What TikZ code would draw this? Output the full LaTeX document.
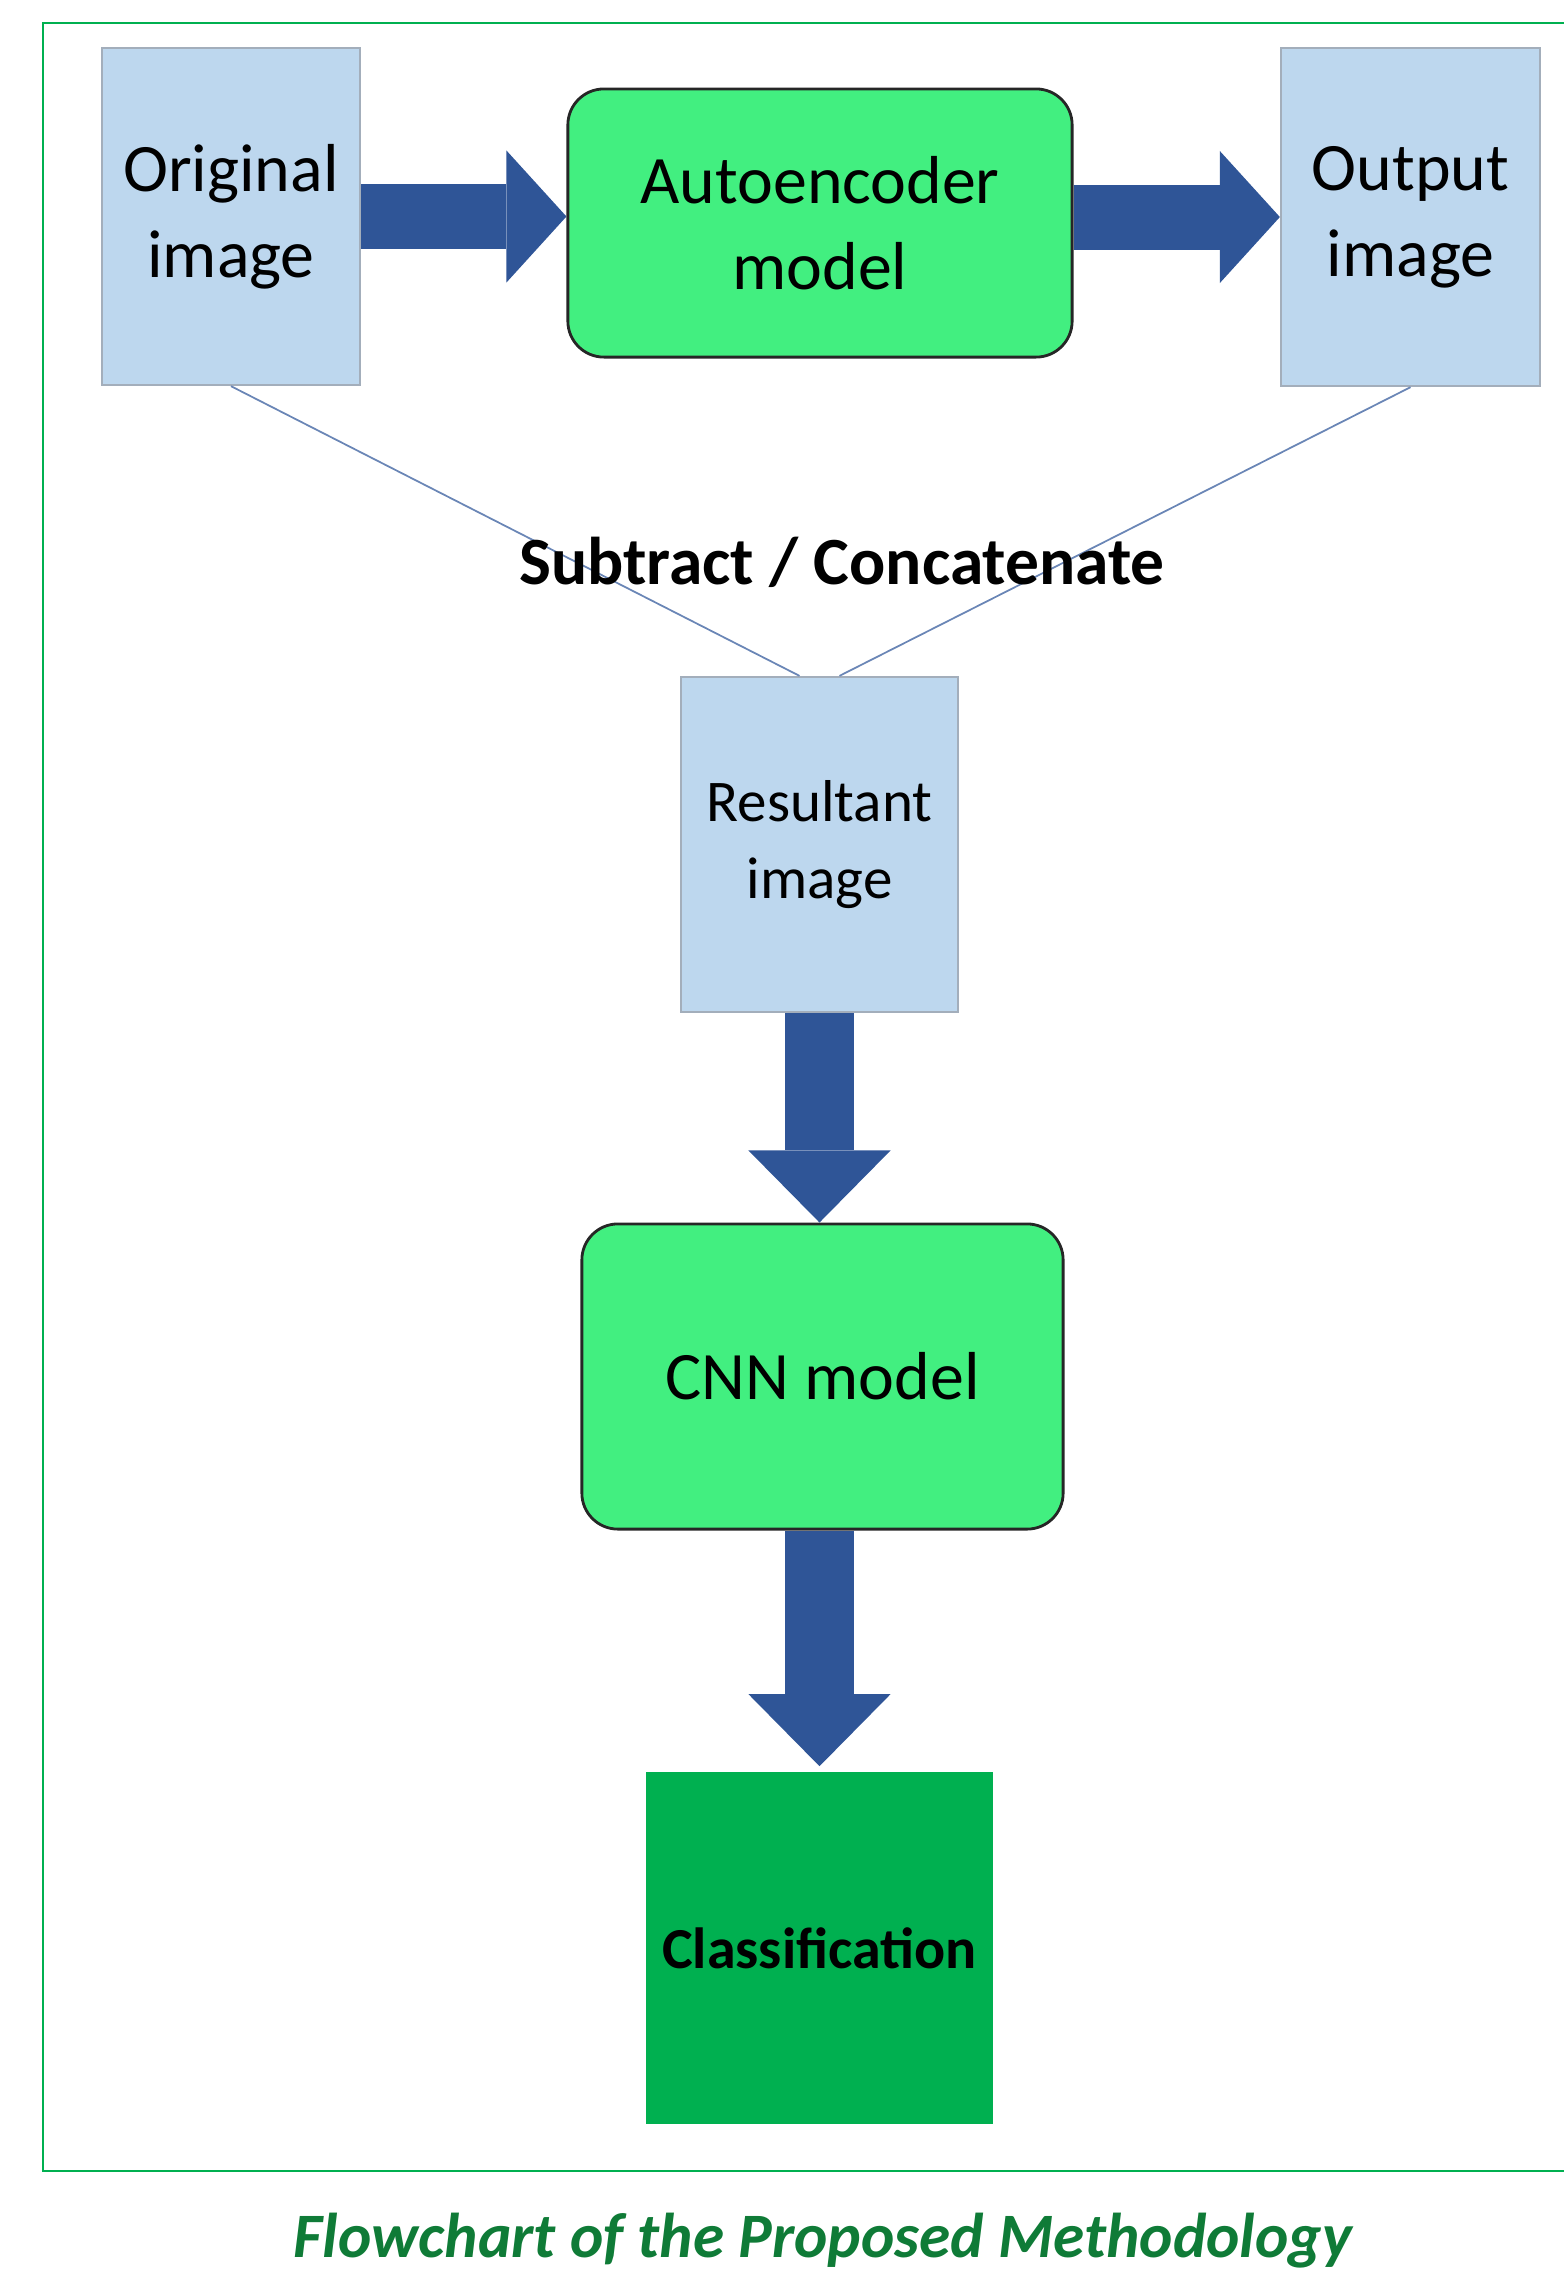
\documentclass[tikz,border=0pt]{standalone}
\usepackage{fontspec}
\setmainfont{Carlito}
\usetikzlibrary{arrows.meta}

\definecolor{imgblue}{HTML}{BDD7EE}
\definecolor{imgedge}{HTML}{A3AEBB}
\definecolor{modelgreen}{HTML}{42EF80}
\definecolor{clsgreen}{HTML}{00B050}
\definecolor{arrowblue}{HTML}{2F5597}
\definecolor{linkblue}{HTML}{6A86B6}
\definecolor{capgreen}{HTML}{0F7B37}

\begin{document}
\begin{tikzpicture}[x=0.01cm, y=-0.01cm,
    every node/.style={inner sep=0pt, align=center},
    boxtext/.style={font=\fontsize{19.3}{24.5}\selectfont},
    imgbox/.style={draw=imgedge, fill=imgblue, line width=0.6pt},
    modelbox/.style={draw=black!85, fill=modelgreen, rounded corners=0.36cm, line width=0.8pt},
    hflow/.style={draw=arrowblue, line width=0.65cm,
        -{Triangle[length=0.6cm, width=1.32cm, line width=0pt]}},
    vflow/.style={draw=arrowblue, line width=0.69cm,
        -{Triangle[length=0.72cm, width=1.42cm, line width=0pt]}},
    link/.style={draw=linkblue, line width=0.5pt}]
\useasboundingbox (0,0) rectangle (1564,2277);

% outer frame, open on the right
\draw[clsgreen, line width=0.8pt] (1570,23) -| (43,2171) -- (1570,2171);

% top row
\node[imgbox, boxtext, minimum width=2.58cm, minimum height=3.37cm] (orig) at (231,216.5) {Original\\image};
\node[modelbox, boxtext, minimum width=5.04cm, minimum height=2.68cm] (ae) at (820,223) {Autoencoder\\model};
\node[imgbox, boxtext, minimum width=2.59cm, minimum height=3.38cm] (out) at (1410.5,217) {Output\\image};

\draw[hflow] (orig.east) -- (orig.east -| ae.west);
\draw[hflow] (out.west -| ae.east) -- (out.west);

% merge step
\node[imgbox, font=\fontsize{16.8}{22}\selectfont, minimum width=2.77cm, minimum height=3.35cm] (res) at (819.5,844.5) {Resultant\\image};
\draw[link] (orig.south) -- ([xshift=-2mm]res.north);
\draw[link] (out.south) -- ([xshift=2mm]res.north);
\node[font=\bfseries\fontsize{19.2}{23}\selectfont, anchor=base] (op) at (842,584) {Subtract / Concatenate};

% classifier
\node[modelbox, boxtext, minimum width=4.81cm, minimum height=3.05cm] (cnn) at (822.5,1376.5) {CNN model};
\node[fill=clsgreen, font=\bfseries\fontsize{16.5}{20}\selectfont, minimum width=3.47cm, minimum height=3.52cm] (cls) at (819.5,1948) {Classification};

\draw[vflow] (res.south) -- (res.south |- cnn.north);
\draw[vflow] (cls.north |- cnn.south) -- ([yshift=0.05cm]cls.north);

\node[font=\bfseries\itshape\fontsize{18}{22}\selectfont, text=capgreen, anchor=base] (caption) at (823,2257) {Flowchart of the Proposed Methodology};
\end{tikzpicture}
\end{document}
